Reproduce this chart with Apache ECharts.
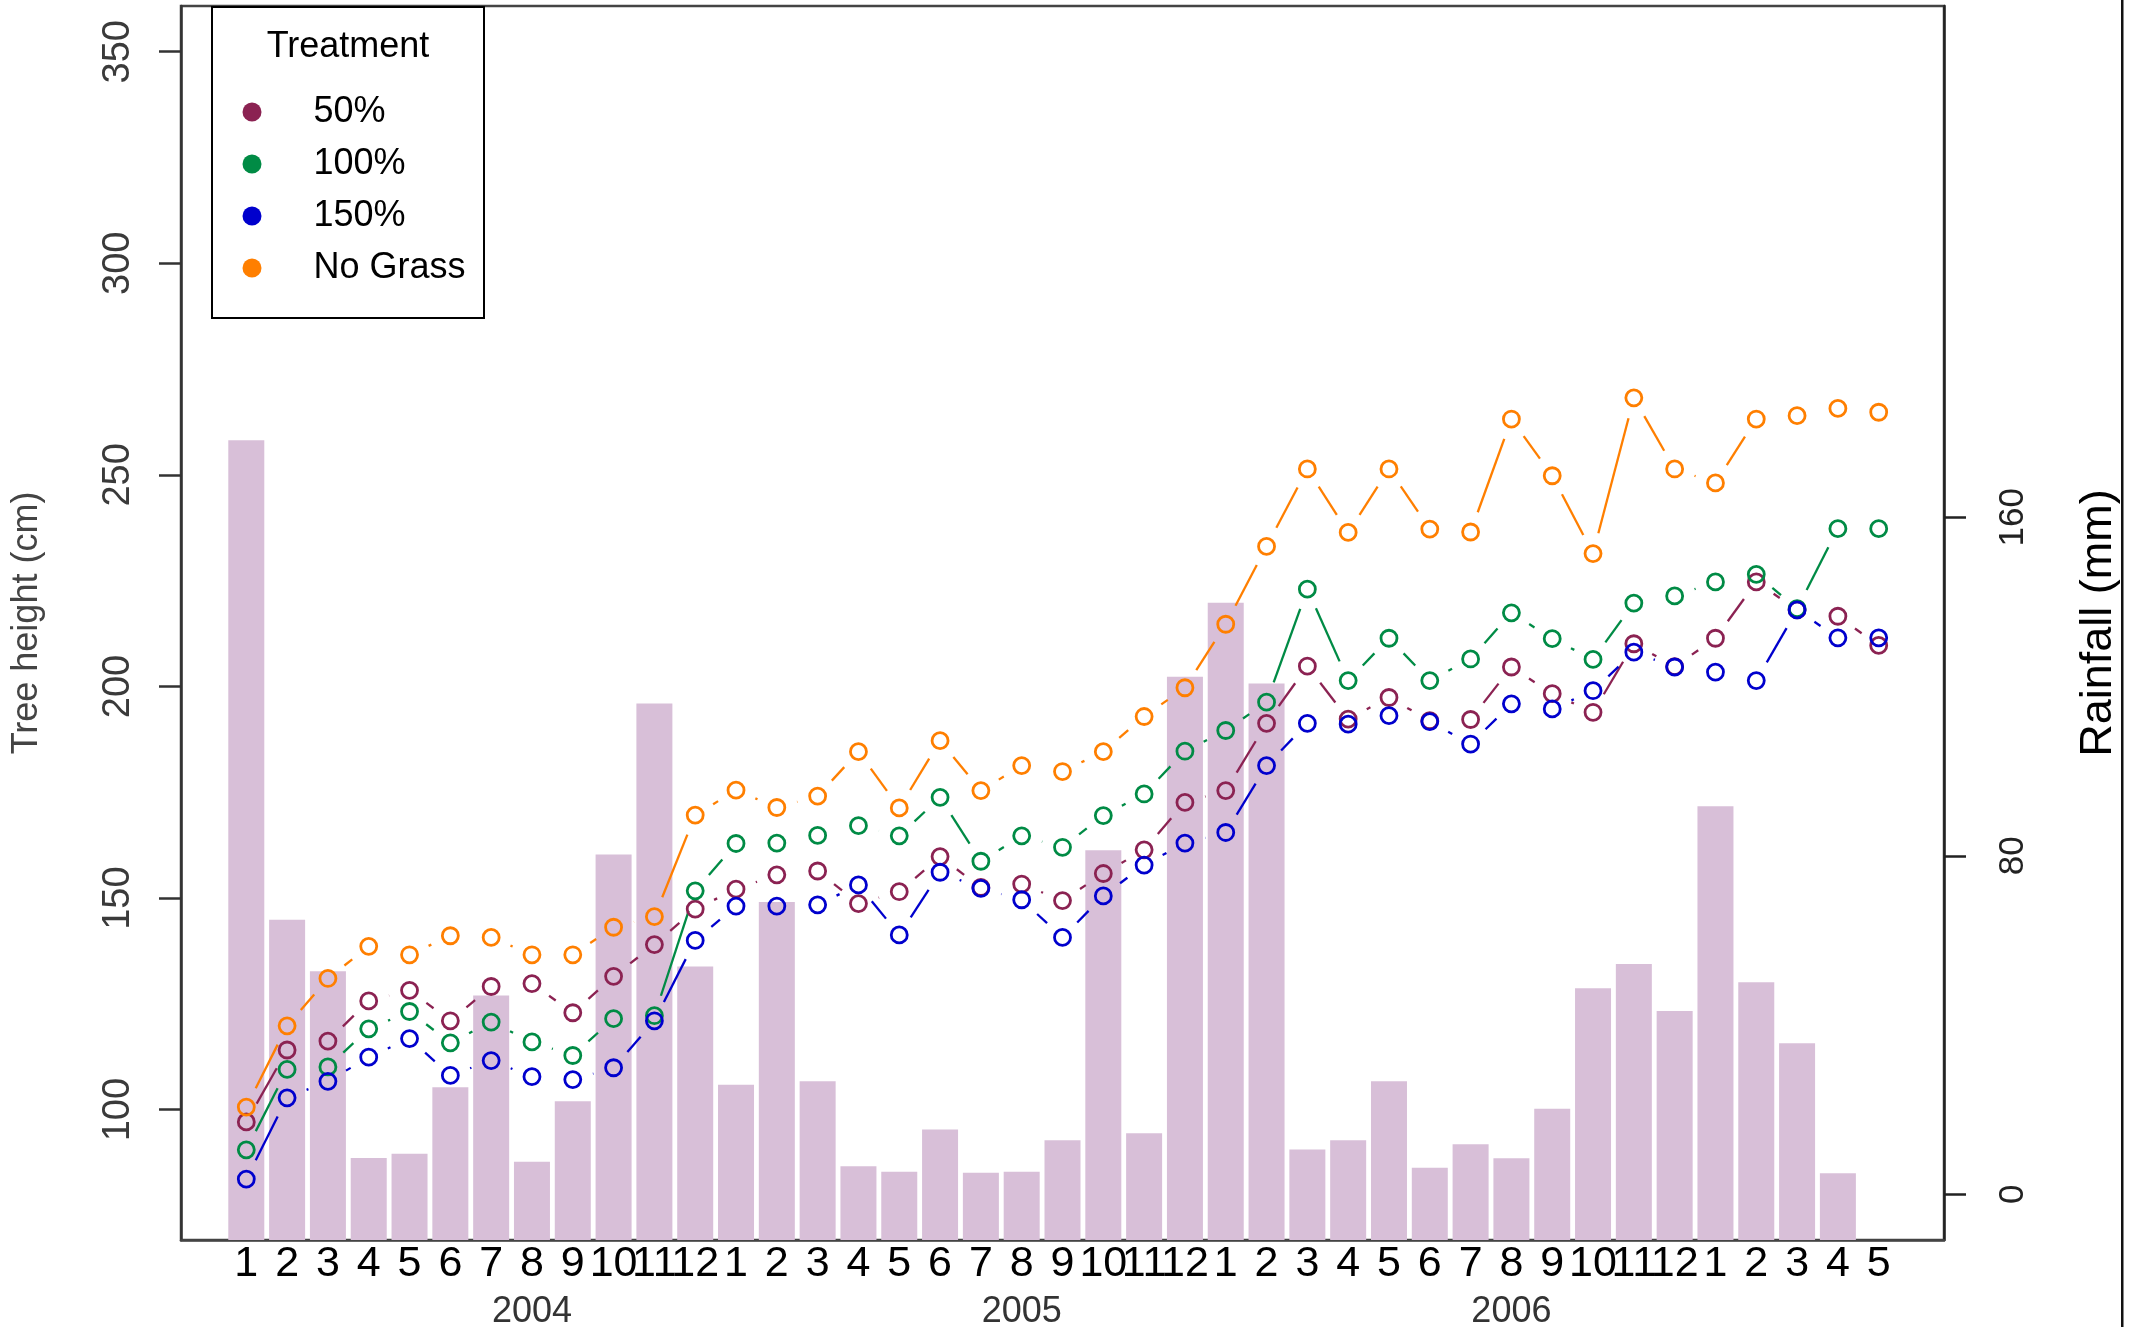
<!DOCTYPE html>
<html>
<head>
<meta charset="utf-8">
<script src="https://cdn.jsdelivr.net/npm/echarts@6/dist/echarts.min.js"></script>
<style>
html,body{margin:0;padding:0;background:#ffffff;}
#chart{width:2134px;height:1327px;}
</style>
</head>
<body>
<div id="chart"></div>
<script>
// ---- data ----
const monthLabels = ['1','2','3','4','5','6','7','8','9','10','11','12',
                     '1','2','3','4','5','6','7','8','9','10','11','12',
                     '1','2','3','4','5','6','7','8','9','10','11','12',
                     '1','2','3','4','5'];
const yearLabels = ['2004', '2005', '2006'];
const yearLabelPositions = [8, 20, 32];
const heightTicks = [100, 150, 200, 250, 300, 350];
const rainTicks = [0, 80, 160];
const treatments = ['50%', '100%', '150%', 'No Grass'];
const treatmentColors = ['#8B2252', '#008B45', '#0000CD', '#FF7F00'];

const rainfall = [178.2, 64.9, 52.7, 8.6, 9.6, 25.3, 47.0, 7.7, 22.0, 80.3,
                  116.0, 53.8, 25.9, 69.1, 26.7, 6.6, 5.3, 15.3, 5.1, 5.3,
                  12.8, 81.3, 14.4, 122.3, 139.8, 120.7, 10.6, 12.8, 26.7, 6.3,
                  11.8, 8.5, 20.2, 48.7, 54.4, 43.3, 91.7, 50.1, 35.7, 5.0, null];

const height50 = [97.1, 114.1, 116.2, 125.7, 128.2, 121.0, 129.1, 129.8, 122.9, 131.5, 139.0, 147.4,
                  152.1, 155.5, 156.4, 148.7, 151.5, 159.8, 152.5, 153.3, 149.4, 155.8, 161.4, 172.6,
                  175.4, 191.3, 204.8, 192.3, 197.4, 191.9, 192.2, 204.6, 198.3, 193.9, 210.1, 204.7,
                  211.4, 224.7, 218.1, 216.6, 209.7];
const height100 = [90.5, 109.5, 110.1, 119.1, 123.2, 115.8, 120.7, 116.0, 112.8, 121.5, 122.2, 151.7,
                   162.9, 163.0, 164.8, 167.1, 164.7, 173.8, 158.7, 164.7, 162.0, 169.5, 174.6, 184.7,
                   189.6, 196.3, 223.0, 201.4, 211.4, 201.4, 206.5, 217.4, 211.3, 206.4, 219.7, 221.4,
                   224.7, 226.5, 218.4, 237.3, 237.3];
const height150 = [83.6, 102.8, 106.7, 112.4, 116.8, 108.1, 111.6, 107.8, 107.1, 109.9, 121.0, 140.0,
                   148.1, 148.1, 148.4, 153.1, 141.3, 156.1, 152.3, 149.6, 140.7, 150.5, 157.8, 163.0,
                   165.5, 181.3, 191.3, 191.1, 193.1, 191.7, 186.4, 195.9, 194.7, 199.0, 208.1, 204.6,
                   203.4, 201.4, 218.1, 211.5, 211.5];
const heightNoGrass = [100.6, 119.8, 131.0, 138.6, 136.6, 141.1, 140.7, 136.6, 136.6, 143.1, 145.6, 169.6,
                       175.5, 171.4, 174.1, 184.6, 171.3, 187.2, 175.4, 181.3, 179.9, 184.6, 192.9, 199.7,
                       214.7, 233.1, 251.4, 236.4, 251.4, 237.2, 236.5, 263.2, 249.8, 231.4, 268.2, 251.4,
                       248.1, 263.2, 264.0, 265.7, 264.8];

const heightSeries = [height50, height100, height150, heightNoGrass];

// ---- build options ----
const FONT = 'Liberation Sans, Arial, Helvetica, sans-serif';
const GAP = 21; // R type="b" gap around each point (px)
const monthPositions = monthLabels.map((_, i) => i + 1);

function segmentRenderer(color) {
  return function (params, api) {
    const p1 = api.coord([api.value(0), api.value(1)]);
    const p2 = api.coord([api.value(2), api.value(3)]);
    const dx = p2[0] - p1[0], dy = p2[1] - p1[1];
    const dist = Math.sqrt(dx * dx + dy * dy);
    const f = GAP / dist;
    if (!(f < 0.5)) return { type: 'group', children: [] };
    return {
      type: 'line',
      shape: { x1: p1[0] + f * dx, y1: p1[1] + f * dy, x2: p2[0] - f * dx, y2: p2[1] - f * dy },
      style: { stroke: color, lineWidth: 2.3, lineCap: 'butt' }
    };
  };
}

const series = [];
series.push({
  type: 'bar',
  name: 'Rainfall',
  xAxisIndex: 0,
  yAxisIndex: 1,
  barWidth: 36,
  itemStyle: { color: '#D8BFD8' },
  data: rainfall.map((r, i) => [i + 1, r]).filter(d => d[1] !== null),
  z: 1,
  silent: true
});
heightSeries.forEach((vals, k) => {
  const segs = [];
  for (let i = 0; i < vals.length - 1; i++) segs.push([i + 1, vals[i], i + 2, vals[i + 1]]);
  series.push({
    type: 'custom',
    name: treatments[k] + ' line',
    xAxisIndex: 0,
    yAxisIndex: 0,
    renderItem: segmentRenderer(treatmentColors[k]),
    encode: { x: [0, 2], y: [1, 3] },
    data: segs,
    z: 2,
    silent: true
  });
});
heightSeries.forEach((vals, k) => {
  series.push({
    type: 'scatter',
    name: treatments[k],
    xAxisIndex: 0,
    yAxisIndex: 0,
    symbol: 'circle',
    symbolSize: 16,
    itemStyle: { color: 'rgba(255,255,255,0)', borderColor: treatmentColors[k], borderWidth: 2.8, opacity: 1 },
    emphasis: { disabled: true },
    data: vals.map((v, i) => [i + 1, v]),
    z: 3,
    silent: true
  });
});

const option = {
  animation: false,
  backgroundColor: '#ffffff',
  textStyle: { fontFamily: FONT },
  grid: {
    left: 181, right: 190, top: 6, bottom: 87,
    containLabel: false, outerBoundsMode: 'none',
    show: true, borderColor: '#444', borderWidth: 2.5, backgroundColor: 'rgba(0,0,0,0)'
  },
  legend: {
    orient: 'vertical',
    left: 237.5,
    top: 89,
    itemWidth: 19,
    itemHeight: 19,
    itemGap: 16,
    selectedMode: false,
    z: 20,
    textStyle: { fontSize: 36, color: '#000', fontFamily: FONT, lineHeight: 36, padding: [0, 0, 0, 47] },
    data: treatments.map((n, i) => ({ name: n, icon: 'circle', itemStyle: { color: treatmentColors[i], borderWidth: 0 } }))
  },
  xAxis: [
    {
      type: 'value', min: -0.6, max: 42.6, position: 'bottom',
      axisLine: { show: true, onZero: false, lineStyle: { color: '#444', width: 2.5 } },
      axisTick: { show: false },
      splitLine: { show: false },
      axisLabel: {
        customValues: monthPositions, hideOverlap: false,
        formatter: v => monthLabels[Math.round(v) - 1],
        fontSize: 43, color: '#000', margin: 3, fontFamily: FONT
      }
    },
    {
      type: 'value', min: -0.6, max: 42.6, position: 'bottom', offset: 50,
      axisLine: { show: false }, axisTick: { show: false }, splitLine: { show: false },
      axisLabel: {
        customValues: yearLabelPositions, hideOverlap: false,
        formatter: v => yearLabels[yearLabelPositions.indexOf(Math.round(v))],
        fontSize: 36, color: '#333', margin: 4, fontFamily: FONT
      }
    }
  ],
  yAxis: [
    {
      type: 'value', min: 69.2, max: 360.8, position: 'left',
      name: 'Tree height (cm)', nameLocation: 'middle', nameRotate: 90, nameGap: 136,
      nameMoveOverlap: false,
      nameTextStyle: { fontSize: 36, color: '#444', fontFamily: FONT },
      axisLine: { show: true, onZero: false, lineStyle: { color: '#333', width: 2.5 } },
      axisTick: { show: true, customValues: heightTicks, length: 22, inside: false, lineStyle: { color: '#333', width: 2.5 } },
      splitLine: { show: false },
      axisLabel: { customValues: heightTicks, rotate: 90, margin: 43, fontSize: 38, color: '#3a3a3a', fontFamily: FONT, hideOverlap: false }
    },
    {
      type: 'value', min: -10.8, max: 280.8, startValue: -10.8, position: 'right',
      name: 'Rainfall (mm)', nameLocation: 'middle', nameRotate: 90, nameGap: 132,
      nameMoveOverlap: false,
      nameTextStyle: { fontSize: 45, color: '#000', fontFamily: FONT },
      axisLine: { show: true, onZero: false, lineStyle: { color: '#222', width: 2.5 } },
      axisTick: { show: true, customValues: rainTicks, length: 22, inside: false, lineStyle: { color: '#222', width: 2.5 } },
      splitLine: { show: false },
      axisLabel: { customValues: rainTicks, rotate: 90, margin: 52, fontSize: 35, color: '#222', fontFamily: FONT, hideOverlap: false }
    }
  ],
  graphic: [
    {
      type: 'rect', z: 10,
      shape: { x: 212, y: 7, width: 272, height: 311 },
      style: { fill: '#ffffff', stroke: '#000', lineWidth: 2 }
    },
    {
      type: 'text', z: 11, x: 348, y: 47,
      style: { text: 'Treatment', font: '36px ' + FONT, fill: '#000', align: 'center', verticalAlign: 'middle', textAlign: 'center', textVerticalAlign: 'middle' }
    },
    {
      type: 'rect', z: 10,
      shape: { x: 2121, y: 0, width: 2.5, height: 1327 },
      style: { fill: '#111' }
    }
  ],
  series: series
};

const chart = echarts.init(document.getElementById('chart'), null, { renderer: 'canvas' });
chart.setOption(option);
</script>
</body>
</html>
